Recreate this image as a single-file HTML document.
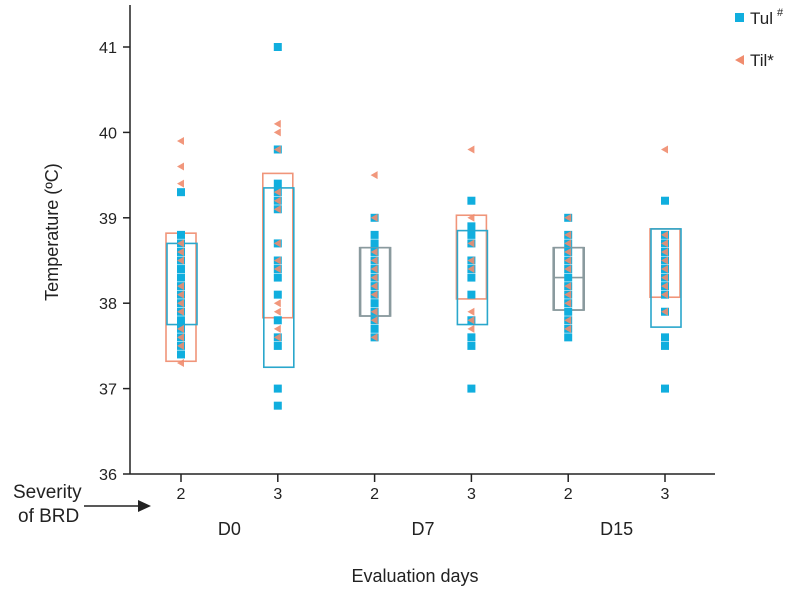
<!DOCTYPE html>
<html><head><meta charset="utf-8"><style>
body{margin:0;background:#fff;font-family:"Liberation Sans",sans-serif;}
svg text{font-family:"Liberation Sans",sans-serif;fill:#222;}
</style></head><body>
<svg id="c" width="800" height="596" xmlns="http://www.w3.org/2000/svg"></svg>
<script>
const categories=["2","3","2","3","2","3"];
const days=["D0","D7","D15"];
const yTicks=[36,37,38,39,40,41];
const tulValues=[
[39.3,38.8,38.7,38.6,38.5,38.4,38.3,38.2,38.1,38.0,37.9,37.8,37.7,37.6,37.5,37.4],
[41.0,39.8,39.4,39.3,39.2,39.1,38.7,38.5,38.4,38.3,38.1,37.8,37.6,37.5,37.0,36.8],
[39.0,38.8,38.7,38.6,38.5,38.4,38.3,38.2,38.1,38.0,37.9,37.8,37.7,37.6],
[39.2,38.9,38.8,38.7,38.5,38.4,38.3,38.1,37.8,37.6,37.5,37.0],
[39.0,38.8,38.7,38.6,38.5,38.4,38.3,38.2,38.1,38.0,37.9,37.8,37.7,37.6],
[39.2,38.8,38.7,38.6,38.5,38.4,38.3,38.2,38.1,37.9,37.6,37.5,37.0]];
const tilValues=[
[39.9,39.6,39.4,38.7,38.6,38.5,38.2,38.1,38.0,37.9,37.7,37.6,37.5,37.3],
[40.1,40.0,39.8,39.3,39.2,39.1,38.7,38.5,38.4,38.0,37.9,37.7,37.6],
[39.5,39.0,38.6,38.5,38.4,38.3,38.2,38.1,37.9,37.8,37.6],
[39.8,39.0,38.7,38.5,38.4,37.9,37.8,37.7],
[39.0,38.8,38.7,38.6,38.5,38.4,38.2,38.1,38.0,37.8,37.7],
[39.8,38.8,38.7,38.6,38.5,38.4,38.3,38.2,38.1,37.9]];
const tulQ1=[37.75,37.25,37.85,37.75,37.92,37.72];
const tulQ3=[38.7,39.35,38.65,38.85,38.65,38.87];
const tilQ1=[37.32,37.83,37.85,38.05,37.92,38.07];
const tilQ3=[38.82,39.52,38.65,39.03,38.65,38.87];
const medians=[null,null,null,null,38.3,null];

const svg=document.getElementById('c');
const NS='http://www.w3.org/2000/svg';
const X0=130,Y36=474,PU=85.4;
const y=v=>Y36-(v-36)*PU;
const x=i=>181+i*96.8;
function el(t,a,p){const e=document.createElementNS(NS,t);for(const k in a)e.setAttribute(k,a[k]);(p||svg).appendChild(e);return e;}
function txt(s,a){const e=el('text',a);e.textContent=s;return e;}

let ax=el('line',{x1:X0,y1:5,x2:X0,y2:Y36,stroke:'#222','stroke-width':1.5});


let xa=el('line',{x1:X0,y1:Y36,x2:715,y2:Y36,stroke:'#222','stroke-width':1.5});


yTicks.forEach(v=>{
 el('line',{x1:X0-7,y1:y(v),x2:X0,y2:y(v),stroke:'#222','stroke-width':1.5});
 const t=txt(String(v),{x:117,y:y(v)+6,'text-anchor':'end','font-size':16,textLength:18,lengthAdjust:'spacingAndGlyphs'});
 
 
});
categories.forEach((c,i)=>{
 el('line',{x1:x(i),y1:Y36,x2:x(i),y2:Y36+8,stroke:'#222','stroke-width':1.5});
 const t=txt(c,{x:x(i),y:499,'text-anchor':'middle','font-size':16});
 
 
});
days.forEach((d,i)=>{
 const t=txt(d,{x:(x(2*i)+x(2*i+1))/2,y:535,'text-anchor':'middle','font-size':18});
 
 
});
const boxG=el('g',{});
categories.forEach((c,i)=>{
 const b1=el('rect',{x:x(i)-15,y:y(tilQ3[i]),width:30,height:y(tilQ1[i])-y(tilQ3[i]),fill:'none',stroke:'#f0957a','stroke-width':1.6},boxG);
 
 
 const b2=el('rect',{x:x(i)-14,y:y(tulQ3[i]),width:30,height:y(tulQ1[i])-y(tulQ3[i]),fill:'none',stroke:'#2aa7cc','stroke-width':1.6},boxG);
 
 
 if(tilQ1[i]===tulQ1[i]&&tilQ3[i]===tulQ3[i]){b1.setAttribute('stroke','#8a9a9e');b2.setAttribute('stroke','#8a9a9e');}
 if(medians[i]!==null){const m=el('line',{x1:x(i)-15,x2:x(i)+16,y1:y(medians[i]),y2:y(medians[i]),stroke:'#8a9a9e','stroke-width':1.6},boxG);
  
  }
});
tulValues.forEach((arr,i)=>arr.forEach(v=>{
 const r=el('rect',{x:x(i)-4,y:y(v)-4,width:8,height:8,fill:'#10aede'});
 
 
}));
tilValues.forEach((arr,i)=>arr.forEach(v=>{
 const cx=x(i),cy=y(v);
 const p=el('polygon',{points:`${cx-4},${cy} ${cx+3},${cy-4} ${cx+3},${cy+4}`,fill:'#f08c6e','fill-opacity':0.9});
 
 
}));
let yt=txt('Temperature (ºC)',{x:0,y:0,'font-size':18,'text-anchor':'middle',transform:'translate(58,232) rotate(-90)'});


let xt=txt('Evaluation days',{x:415,y:582,'font-size':18,'text-anchor':'middle'});


let s1=txt('Severity',{x:13,y:498,'font-size':19});


let s2=txt('of BRD',{x:18,y:522,'font-size':19});


let ar=el('line',{x1:84,y1:506,x2:142,y2:506,stroke:'#222','stroke-width':1.5});


el('polygon',{points:'138,500 151,506 138,512',fill:'#222'});
const lg=el('g',{});


el('rect',{x:735,y:13,width:9,height:9,fill:'#10aede'},lg);
let l1=txt('Tul',{x:750,y:24,'font-size':17});lg.appendChild(l1);


let l1s=txt('#',{x:777,y:16,'font-size':11});lg.appendChild(l1s);


el('polygon',{points:'735,60 744,55 744,65',fill:'#f08c6e'},lg);
let l2=txt('Til*',{x:750,y:66,'font-size':17});lg.appendChild(l2);


</script>
</body></html>
